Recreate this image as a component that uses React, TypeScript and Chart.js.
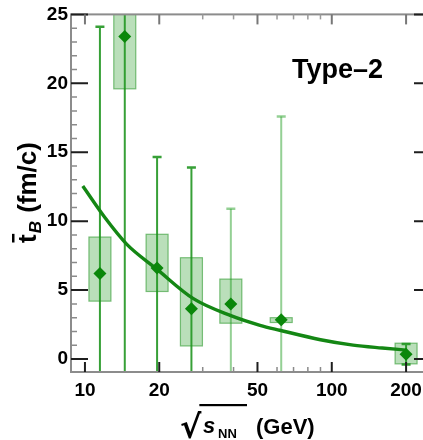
import React, { useEffect, useRef } from "react";
import { Chart, registerables } from "chart.js";

Chart.register(...registerables);

// ---- data ----
const energies = [11.5, 14.5, 19.6, 27, 39, 62.4, 200];
const tB = [6.2, 23.4, 6.6, 3.65, 4.0, 2.85, 0.35];
const statLow = [-12, -2, -1.5, -6.5, -3, -12, -0.4];
const statHigh = [24.1, 48, 14.65, 13.9, 10.9, 17.6, 1.1];
const sysLow = [4.2, 19.6, 4.9, 0.95, 2.6, 2.65, -0.35];
const sysHigh = [8.85, 27.2, 9.05, 7.35, 5.8, 3.0, 1.15];

const fitX = [9.8, 12, 14.75, 19.5, 27.5, 39, 51.2, 61.6, 90, 122, 160, 200];
const fitY = [12.55, 10.3, 8.34, 6.54, 4.38, 3.15, 2.45, 2.09, 1.4, 1.01, 0.8, 0.65];

const xTickValues = [10, 20, 50, 100, 200];
const xMinorValues = [30, 40, 60, 70, 80, 90];
const yTickValues = [0, 5, 10, 15, 20, 25];
const yMinorValues = [1, 2, 3, 4, 6, 7, 8, 9, 11, 12, 13, 14, 16, 17, 18, 19, 21, 22, 23, 24];

// ---- styles ----
const statColors = [
  "rgb(55,160,55)",
  "rgb(55,160,55)",
  "rgb(55,160,55)",
  "rgb(55,160,55)",
  "rgba(60,170,60,0.55)",
  "rgba(60,170,60,0.55)",
  "rgb(55,160,55)",
];
const FONT = '"Liberation Sans", Arial, Helvetica, sans-serif';

const drawPlugin = {
  id: "customDraw",
  beforeDatasetsDraw(chart: any) {
    const { ctx, chartArea: a, scales } = chart;
    const x = scales.x;
    const y = scales.y;
    ctx.save();
    ctx.beginPath();
    ctx.rect(a.left, a.top, a.right - a.left, a.bottom - a.top);
    ctx.clip();
    energies.forEach((e, i) => {
      const px = x.getPixelForValue(e);
      const yTop = y.getPixelForValue(statHigh[i]);
      const yBot = y.getPixelForValue(statLow[i]);
      ctx.strokeStyle = statColors[i];
      ctx.lineWidth = 2;
      ctx.beginPath();
      ctx.moveTo(px, yTop);
      ctx.lineTo(px, yBot);
      ctx.stroke();
      ctx.lineWidth = 2.5;
      ctx.beginPath();
      ctx.moveTo(px - 4.5, yTop);
      ctx.lineTo(px + 4.5, yTop);
      ctx.moveTo(px - 4.5, yBot);
      ctx.lineTo(px + 4.5, yBot);
      ctx.stroke();
      const bt = y.getPixelForValue(sysHigh[i]);
      const bb = y.getPixelForValue(sysLow[i]);
      ctx.fillStyle = "rgba(40,155,40,0.32)";
      ctx.fillRect(px - 11, bt, 22, bb - bt);
      ctx.strokeStyle = "rgba(30,145,30,0.55)";
      ctx.lineWidth = 1.2;
      ctx.strokeRect(px - 11, bt, 22, bb - bt);
    });
    ctx.restore();
  },
  afterDraw(chart: any) {
    const { ctx, chartArea: a, scales } = chart;
    const x = scales.x;
    const y = scales.y;
    ctx.save();
    // frame
    ctx.strokeStyle = "#8c8c8c";
    ctx.lineWidth = 2;
    ctx.strokeRect(a.left, a.top, a.right - a.left, a.bottom - a.top);

    // y ticks
    const yTick = (v: number, major: boolean) => {
      const py = y.getPixelForValue(v);
      ctx.strokeStyle = major ? "#1e1e1e" : "#8a8a8a";
      ctx.lineWidth = major ? 2 : 1.5;
      ctx.beginPath();
      ctx.moveTo(a.left, py);
      ctx.lineTo(a.left + (major ? 17 : 6), py);
      ctx.moveTo(a.right, py);
      ctx.lineTo(a.right - (major ? 16 : 6), py);
      ctx.stroke();
    };
    yTickValues.forEach((v) => yTick(v, true));
    yMinorValues.forEach((v) => yTick(v, false));

    // x ticks
    const xTick = (v: number, major: boolean) => {
      const px = x.getPixelForValue(v);
      ctx.lineWidth = major ? 2 : 1.5;
      ctx.strokeStyle = major ? "#1e1e1e" : "#8a8a8a";
      ctx.beginPath();
      ctx.moveTo(px, a.bottom);
      ctx.lineTo(px, a.bottom - (major ? 10 : 5));
      ctx.stroke();
      ctx.strokeStyle = major ? "#777" : "#9a9a9a";
      ctx.beginPath();
      ctx.moveTo(px, a.top);
      ctx.lineTo(px, a.top + (major ? 10 : 5));
      ctx.stroke();
    };
    xTickValues.forEach((v) => xTick(v, true));
    xMinorValues.forEach((v) => xTick(v, false));

    // y axis title
    ctx.fillStyle = "#000";
    ctx.textAlign = "left";
    ctx.textBaseline = "alphabetic";
    ctx.save();
    ctx.translate(36, 243);
    ctx.rotate(-Math.PI / 2);
    ctx.font = `bold 26px ${FONT}`;
    ctx.fillText("t", 0, 0);
    const tw = ctx.measureText("t").width;
    ctx.fillRect(0.5, -24, tw, 2.5);
    ctx.font = `italic bold 17px ${FONT}`;
    ctx.fillText("B", tw + 1, 5);
    const bw = ctx.measureText("B").width;
    ctx.font = `bold 26px ${FONT}`;
    ctx.fillText(" (fm/c)", tw + bw + 2, 0);
    ctx.restore();

    // x axis title
    ctx.font = `bold 32px "DejaVu Sans", ${FONT}`;
    ctx.fillText("\u221A", 180, 438);
    const rw = ctx.measureText("\u221A").width;
    ctx.fillStyle = "#000";
    ctx.fillRect(180 + rw - 2, 404, 247 - (180 + rw - 2), 2.2);
    ctx.font = `italic bold 22px ${FONT}`;
    ctx.fillText("s", 203, 433);
    ctx.font = `bold 13px ${FONT}`;
    ctx.fillText("NN", 218, 438);
    ctx.font = `bold 22px ${FONT}`;
    ctx.fillText("(GeV)", 256, 434);

    // annotation
    ctx.font = `bold 27px ${FONT}`;
    ctx.fillText("Type\u20132", 292, 78);
    ctx.restore();
  },
};

export default function App() {
  const ref = useRef<HTMLCanvasElement | null>(null);
  useEffect(() => {
    if (!ref.current) return;
    const chart = new Chart(ref.current, {
      type: "scatter",
      data: {
        datasets: [
          {
            label: "tB",
            data: energies.map((e, i) => ({ x: e, y: tB[i] })),
            pointStyle: "rectRot",
            pointRadius: 6.5,
            pointHoverRadius: 6.5,
            backgroundColor: "rgb(10,135,10)",
            borderColor: "rgb(10,135,10)",
            borderWidth: 0,
            showLine: false,
          } as any,
          {
            label: "fit",
            data: fitX.map((v, i) => ({ x: v, y: fitY[i] })),
            showLine: true,
            pointRadius: 0,
            borderColor: "rgb(20,135,20)",
            borderWidth: 3.4,
            cubicInterpolationMode: "monotone",
            fill: false,
          } as any,
        ],
      },
      options: {
        responsive: false,
        animation: false,
        events: [],
        layout: { padding: { top: 14, right: 10, left: 0, bottom: 0 } },
        plugins: { legend: { display: false }, tooltip: { enabled: false } },
        scales: {
          x: {
            type: "logarithmic",
            min: 8.78,
            max: 250,
            grid: { display: false, drawTicks: false },
            border: { display: false },
            afterBuildTicks: (s: any) => {
              s.ticks = xTickValues.map((v) => ({ value: v, major: false }));
            },
            afterFit: (s: any) => {
              s.height = 68;
            },
            ticks: {
              autoSkip: false,
              maxRotation: 0,
              padding: 7,
              color: "#000",
              font: { family: FONT, weight: "bold", size: 19 },
              callback: (v: any) => String(v),
            },
          },
          y: {
            type: "linear",
            min: -0.94,
            max: 25,
            grid: { display: false, drawTicks: false },
            border: { display: false },
            afterBuildTicks: (s: any) => {
              s.ticks = yTickValues.map((v) => ({ value: v }));
            },
            afterFit: (s: any) => {
              s.width = 71;
            },
            ticks: {
              padding: 3,
              color: "#000",
              font: { family: FONT, weight: "bold", size: 19 },
              callback: (v: any) => String(v),
            },
          },
        },
      } as any,
      plugins: [drawPlugin],
    });
    return () => chart.destroy();
  }, []);
  return (
    <div
      style={{
        position: "fixed",
        left: 0,
        top: 0,
        width: 423,
        height: 440,
        overflow: "hidden",
        background: "#fff",
      }}
    >
      <canvas ref={ref} width={440} height={440} style={{ width: 440, height: 440, display: "block" }} />
    </div>
  );
}
